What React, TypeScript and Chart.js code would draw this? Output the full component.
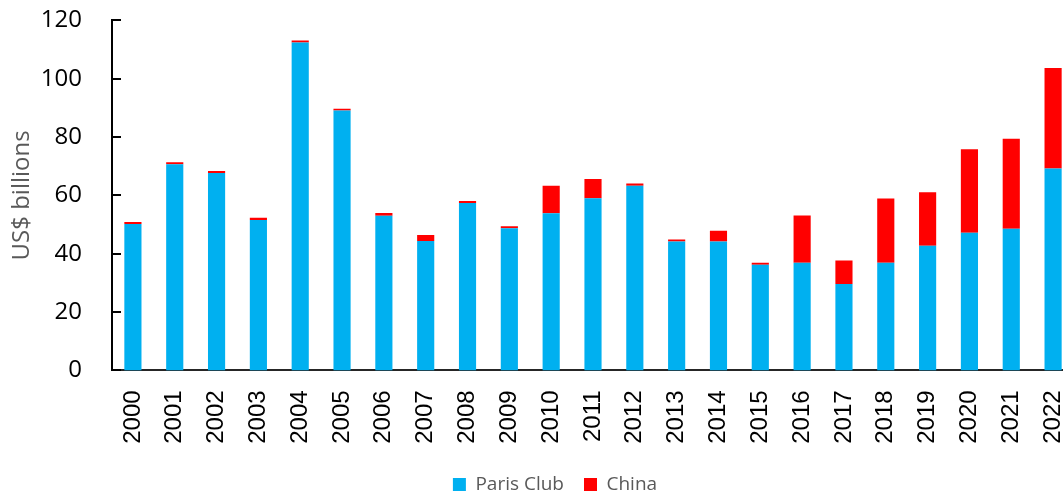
import React, { useEffect, useRef } from "react";
import { Chart, registerables } from "chart.js";

Chart.register(...registerables);

const years = [
  "2000", "2001", "2002", "2003", "2004", "2005", "2006", "2007", "2008", "2009", "2010", "2011",
  "2012", "2013", "2014", "2015", "2016", "2017", "2018", "2019", "2020", "2021", "2022",
];
const parisClub = [
  50.2, 70.7, 67.7, 51.6, 112.4, 89.1, 53.0, 44.4, 57.4, 48.7, 53.9, 59.0,
  63.3, 44.2, 44.2, 36.2, 36.9, 29.6, 36.9, 42.7, 47.2, 48.6, 69.2,
];
const china = [
  0.7, 0.7, 0.7, 0.7, 0.7, 0.6, 1.0, 2.0, 0.7, 0.7, 9.4, 6.6,
  0.8, 0.7, 3.7, 0.7, 16.2, 8.1, 22.0, 18.4, 28.6, 30.8, 34.5,
];
const yTicks = [0, 20, 40, 60, 80, 100, 120];

const innerTicks = {
  id: "innerTicks",
  afterDraw(chart: any) {
    const { ctx, chartArea, scales } = chart;
    const y = scales.y;
    ctx.save();
    ctx.strokeStyle = "#000";
    ctx.lineWidth = 2;
    yTicks.forEach((v) => {
      const py = Math.round(y.getPixelForValue(v));
      ctx.beginPath();
      ctx.moveTo(chartArea.left - 1, py);
      ctx.lineTo(chartArea.left + 9, py);
      ctx.stroke();
    });
    ctx.restore();
  },
};

export default function App() {
  const ref = useRef<HTMLCanvasElement>(null);
  useEffect(() => {
    const chart = new Chart(ref.current!, {
      type: "bar",
      data: {
        labels: years,
        datasets: [
          { label: "Paris Club", data: parisClub, backgroundColor: "#00B0F0", yAxisID: "y" },
          { label: "China", data: china, backgroundColor: "#FF0000", yAxisID: "y" },
        ],
      },
      options: {
        responsive: false,
        animation: false,
        devicePixelRatio: 1,
        layout: { padding: { top: 0, left: 0, right: 0, bottom: 0 } },
        datasets: { bar: { categoryPercentage: 1, barPercentage: 0.41 } },
        plugins: {
          tooltip: { enabled: false },
          legend: {
            position: "bottom",
            labels: {
              boxWidth: 13,
              boxHeight: 13,
              padding: 20,
              color: "#595959",
              font: { family: "'Open Sans'", size: 19 },
            },
          },
        },
        scales: {
          x: {
            stacked: true,
            grid: { display: false, drawTicks: false },
            border: { display: true, color: "#262626", width: 2 },
            ticks: {
              autoSkip: false,
              maxRotation: 90,
              minRotation: 90,
              padding: 20,
              color: "#000",
              font: { family: "'Liberation Sans'", size: 24 },
            },
            afterFit: (s: any) => {
              s.height = 84.6;
            },
          },
          y: {
            stacked: true,
            min: 0,
            max: 120,
            grid: { display: false, drawTicks: false },
            border: { display: true, color: "#000", width: 2 },
            ticks: {
              stepSize: 20,
              padding: 30,
              color: "#000",
              font: { family: "'Open Sans'", size: 24 },
            },
            title: {
              display: true,
              text: "US$ billions",
              color: "#595959",
              padding: { top: 8, bottom: 0 },
              font: { family: "'Open Sans'", size: 24 },
            },
            afterFit: (s: any) => {
              s.width = 112;
            },
          },
          y2: {
            position: "right",
            display: true,
            grid: { display: false, drawTicks: false },
            border: { display: false },
            ticks: { display: false },
            afterFit: (s: any) => {
              s.width = 36;
            },
          },
        },
      },
      plugins: [innerTicks],
    });
    return () => chart.destroy();
  }, []);
  return (
    <div style={{ position: "fixed", left: 0, top: -24, width: 1110, height: 528 }}>
      <canvas ref={ref} width={1110} height={528} style={{ display: "block" }} />
    </div>
  );
}
